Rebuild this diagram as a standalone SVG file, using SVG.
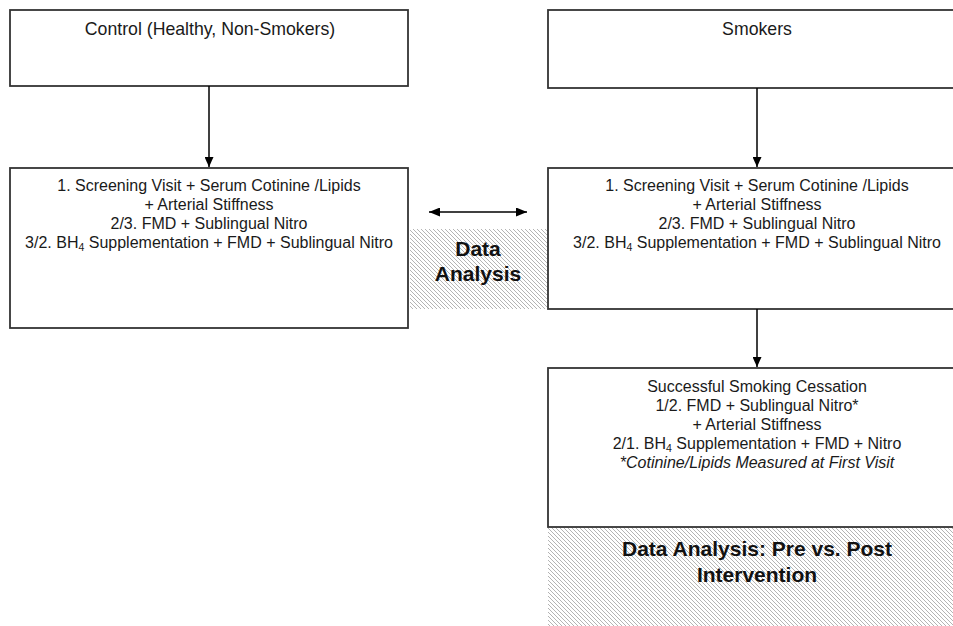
<svg xmlns="http://www.w3.org/2000/svg" width="953" height="626" viewBox="0 0 953 626">
<style>
.box{fill:#fff;stroke:#333;stroke-width:1.8}
.t{font-family:"Liberation Sans",Arial,sans-serif;font-size:16px;fill:#1a1a1a;text-anchor:middle}
.top{font-size:17.7px}
.b{font-family:"Liberation Sans",Arial,sans-serif;font-size:21px;font-weight:bold;fill:#111;text-anchor:middle}
.hatch{fill:url(#hp);stroke:none}
.conn{stroke:#000;stroke-width:1.5;fill:none}
</style>
<defs>
<pattern id="hp" patternUnits="userSpaceOnUse" width="4" height="4">
<rect width="4" height="4" fill="#fff"/>
<path d="M-1,3 L1,5 M0,0 L4,4 M3,-1 L5,1" stroke="#b4b4b4" stroke-width="1"/>
</pattern>
<marker id="ah" viewBox="0 0 10 10" refX="10" refY="5" markerWidth="10" markerHeight="9" markerUnits="userSpaceOnUse" orient="auto-start-reverse" preserveAspectRatio="none">
<path d="M0,0 L10,5 L0,10 z" fill="#000"/>
</marker>
<marker id="ah2" viewBox="0 0 10 10" refX="10" refY="5" markerWidth="11" markerHeight="9" markerUnits="userSpaceOnUse" orient="auto-start-reverse" preserveAspectRatio="none">
<path d="M0,0 L10,5 L0,10 z" fill="#000"/>
</marker>
</defs>

<g id="hatch-middle">
<rect class="hatch" x="410" y="229" width="137" height="80"/>
<text class="b" x="478" y="256">Data</text>
<text class="b" x="478" y="281">Analysis</text>
</g>

<g id="hatch-bottom">
<rect class="hatch" x="548" y="527" width="405" height="99"/>
<text class="b" x="757" y="556">Data Analysis: Pre vs. Post</text>
<text class="b" x="757" y="582">Intervention</text>
</g>

<g id="control">
<rect class="box" x="10" y="10" width="398" height="76"/>
<text class="t top" x="210" y="35">Control (Healthy, Non-Smokers)</text>
</g>

<g id="smokers">
<rect class="box" x="548" y="10" width="420" height="78"/>
<text class="t top" x="757" y="35">Smokers</text>
</g>

<g id="control-visits">
<rect class="box" x="10" y="168" width="398" height="160"/>
<text class="t" x="209" y="191">1. Screening Visit + Serum Cotinine /Lipids</text>
<text class="t" x="209" y="210">+ Arterial Stiffness</text>
<text class="t" x="209" y="229">2/3. FMD + Sublingual Nitro</text>
<text class="t" x="209" y="248">3/2. BH<tspan font-size="10.5" dy="3">4</tspan><tspan dy="-3"> Supplementation + FMD + Sublingual Nitro</tspan></text>
</g>

<g id="smoker-visits">
<rect class="box" x="548" y="168" width="420" height="141"/>
<text class="t" x="757" y="191">1. Screening Visit + Serum Cotinine /Lipids</text>
<text class="t" x="757" y="210">+ Arterial Stiffness</text>
<text class="t" x="757" y="229">2/3. FMD + Sublingual Nitro</text>
<text class="t" x="757" y="248">3/2. BH<tspan font-size="10.5" dy="3">4</tspan><tspan dy="-3"> Supplementation + FMD + Sublingual Nitro</tspan></text>
</g>

<g id="cessation">
<rect class="box" x="548" y="368" width="420" height="159"/>
<text class="t" x="757" y="392">Successful Smoking Cessation</text>
<text class="t" x="757" y="411">1/2. FMD + Sublingual Nitro*</text>
<text class="t" x="757" y="430">+ Arterial Stiffness</text>
<text class="t" x="757" y="449">2/1. BH<tspan font-size="10.5" dy="3">4</tspan><tspan dy="-3"> Supplementation + FMD + Nitro</tspan></text>
<text class="t" x="757" y="468" font-style="italic">*Cotinine/Lipids Measured at First Visit</text>
</g>

<g id="connectors">
<line class="conn" x1="209" y1="86" x2="209" y2="167" marker-end="url(#ah)"/>
<line class="conn" x1="757" y1="88" x2="757" y2="167" marker-end="url(#ah)"/>
<line class="conn" x1="757" y1="309" x2="757" y2="367" marker-end="url(#ah)"/>
<line class="conn" x1="429" y1="212" x2="527" y2="212" marker-start="url(#ah2)" marker-end="url(#ah2)"/>
</g>
</svg>
